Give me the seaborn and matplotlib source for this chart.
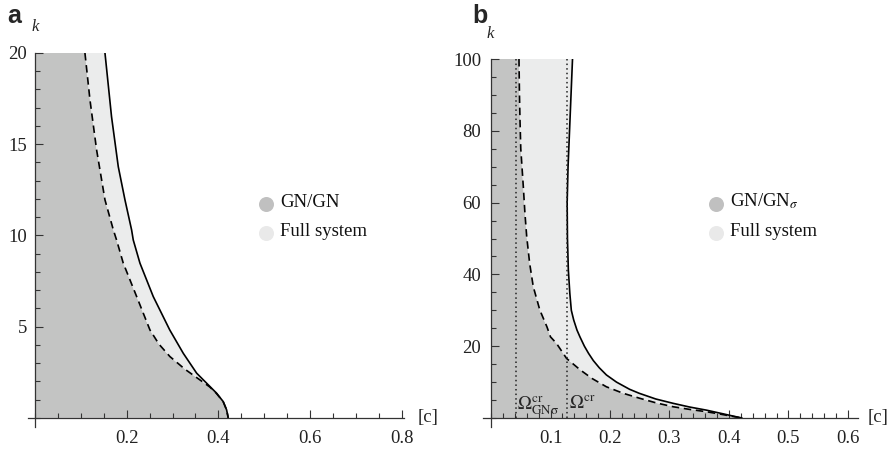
import numpy as np
import matplotlib
matplotlib.use("Agg")
import matplotlib.pyplot as plt
from matplotlib.ticker import MultipleLocator, FixedLocator
import seaborn as sns

# ---------------- data ----------------
# panel a : boundary curves c(k)
k_a_full = [20, 16.51, 13.77, 11.95, 10.3, 9.75, 8.48, 6.65, 4.82, 3.54, 2.45,
            1.90, 1.35, 0.89, 0.44, 0]
c_a_full = [0.1527, 0.167, 0.1817, 0.1963, 0.2108, 0.2144, 0.229, 0.258, 0.294,
            0.3235, 0.3527, 0.3745, 0.3963, 0.4107, 0.418, 0.4216]
k_a_gn = [20, 17.42, 14.68, 11.95, 10.3, 9.75, 8.48, 6.65, 4.82, 4.04, 3.36, 2.67,
          2.08, 1.7, 1.35, 0.89, 0.44, 0]
c_a_gn = [0.109, 0.120, 0.1345, 0.1527, 0.171, 0.178, 0.1926, 0.2218, 0.2508, 0.2705,
          0.2944, 0.327, 0.3599, 0.381, 0.3955, 0.4105, 0.418, 0.4216]
# panel b : boundary curves c(k)
k_b_full = [100, 90, 80, 70, 60, 50, 41.2, 34.7, 30, 27.3, 24.5, 22.6, 20, 18, 16, 14,
            12, 10, 8, 6.9, 5.3, 4.1, 3.06, 2.2, 1.1, 0.5, 0]
c_b_full = [0.137, 0.1345, 0.132, 0.1295, 0.128, 0.1285, 0.130, 0.1325, 0.135, 0.139,
            0.1445, 0.1495, 0.157, 0.164, 0.172, 0.182, 0.194, 0.211, 0.233, 0.249, 0.277,
            0.306, 0.334, 0.362, 0.392, 0.408, 0.422]
k_b_gn = [100, 90, 83, 75, 64.4, 57, 50.5, 43, 36.6, 30.1, 25.4, 22.6, 20.8, 16.6, 13.4,
          11, 8.7, 6.9, 5.5, 4.2, 3.15, 2.4, 1.76, 1.1, 0.5, 0]
c_b_gn = [0.047, 0.0478, 0.0487, 0.050, 0.0543, 0.057, 0.060, 0.065, 0.071, 0.082, 0.094,
          0.100, 0.110, 0.127, 0.150, 0.170, 0.194, 0.222, 0.250, 0.278, 0.306, 0.334,
          0.362, 0.385, 0.405, 0.422]
omega_cr_gn = 0.0415
omega_cr = 0.128

xticks_a = [0.2, 0.4, 0.6, 0.8]
yticks_a = [5, 10, 15, 20]
xticks_b = [0.1, 0.2, 0.3, 0.4, 0.5, 0.6]
yticks_b = [20, 40, 60, 80, 100]
legend_a = ["GN/GN", "Full system"]
legend_b = ["GN/GN$_{\\sigma}$", "Full system"]

# ---------------- style ----------------
sns.set_theme(style="white")
plt.rcParams["font.family"] = ["Liberation Serif", "DejaVu Serif"]
plt.rcParams["mathtext.fontset"] = "stix"

DARK = "#c3c4c3"
LIGHT = "#ebecec"
LEG_DARK = "#c0c0c0"
LEG_LIGHT = "#e9e9e9"
AX_COL = "#333333"
FS = 13.5

W, H = 893, 450
fig = plt.figure(figsize=(W / 100, H / 100), dpi=100)


def fx(px):
    return px / W


def fy(py):
    return 1 - py / H


def make_axes(l, r, t, b):
    return fig.add_axes([fx(l), fy(b), fx(r) - fx(l), fy(t) - fy(b)])


def style_axes(ax, xlim, ylim, xt, yt, xminor, yminor, ypad):
    ax.set_xlim(*xlim)
    ax.set_ylim(*ylim)
    ax.set_axisbelow(False)
    for s in ["top", "right"]:
        ax.spines[s].set_visible(False)
    for s in ["left", "bottom"]:
        ax.spines[s].set_position(("data", 0))
        ax.spines[s].set_color(AX_COL)
        ax.spines[s].set_linewidth(0.9)
        ax.spines[s].set_zorder(6)
    ax.xaxis.set_major_locator(FixedLocator(xt))
    ax.yaxis.set_major_locator(FixedLocator(yt))
    ax.xaxis.set_minor_locator(MultipleLocator(xminor))
    ax.yaxis.set_minor_locator(MultipleLocator(yminor))
    ax.set_xticklabels([f"{v:g}" for v in xt])
    ax.set_yticklabels([f"{v:g}" for v in yt])
    ax.tick_params(which="both", direction="in", color=AX_COL, width=0.8,
                   labelsize=FS, labelcolor="#222222", bottom=True, left=True,
                   top=False, right=False)
    ax.tick_params(which="major", length=6)
    ax.tick_params(which="minor", length=3.5)
    ax.tick_params(axis="x", which="both", pad=8.5)
    ax.tick_params(axis="y", which="both", pad=ypad)
    ax.set_facecolor("none")
    ax.grid(False)


def draw_regions(ax, k_gn, c_gn, k_full, c_full, ktop):
    # dark region: from c = 0 to the GN boundary
    ax.fill(list(c_gn) + [0, 0], list(k_gn) + [0, ktop], color=DARK, lw=0, zorder=1)
    # light region: between GN boundary and full-system boundary
    ax.fill(list(c_full) + list(c_gn[::-1]), list(k_full) + list(k_gn[::-1]),
            color=LIGHT, lw=0, zorder=1)
    sns.lineplot(x=c_full, y=k_full, sort=False, estimator=None, ax=ax,
                 color="black", lw=1.2, zorder=3)
    sns.lineplot(x=c_gn, y=k_gn, sort=False, estimator=None, ax=ax,
                 color="black", lw=1.2, linestyle=(0, (4.5, 2.8)), zorder=3)


# ---------------- panel a ----------------
ax_a = make_axes(28.1, 404, 53, 427)
draw_regions(ax_a, k_a_gn, c_a_gn, k_a_full, c_a_full, 20)
style_axes(ax_a, (-0.015, 0.805), (-0.5, 20), xticks_a, yticks_a, 0.05, 1, 5.8)

# ---------------- panel b ----------------
ax_b = make_axes(483.3, 858, 59, 427)
draw_regions(ax_b, k_b_gn, c_b_gn, k_b_full, c_b_full, 100)
for xv in (omega_cr_gn, omega_cr):
    ax_b.plot([xv, xv], [0, 100], color="#222222", lw=1.1,
              linestyle=(0, (1, 2)), zorder=4)
style_axes(ax_b, (-0.013, 0.617), (-2.5, 100), xticks_b, yticks_b, 0.02, 5, 7)

ax_b.text(omega_cr_gn + 0.002, 2.4, r"$\Omega^{\rm cr}_{\rm GN\sigma}$",
          fontsize=FS, ha="left", va="baseline", zorder=5)
ax_b.text(omega_cr + 0.003, 2.4, r"$\Omega^{\rm cr}$",
          fontsize=FS, ha="left", va="baseline", zorder=5)

# ---------------- figure annotations ----------------
fig.text(fx(7), fy(23), "a", fontsize=18, fontweight="bold",
         family=["Liberation Sans", "DejaVu Sans"], ha="left", va="baseline")
fig.text(fx(472), fy(23), "b", fontsize=18, fontweight="bold",
         family=["Liberation Sans", "DejaVu Sans"], ha="left", va="baseline")
fig.text(fx(32), fy(31), "k", fontsize=12, style="italic", ha="left", va="baseline")
fig.text(fx(487), fy(38), "k", fontsize=12, style="italic", ha="left", va="baseline")
fig.text(fx(418), fy(417.5), "[c]", fontsize=FS, ha="left", va="center")
fig.text(fx(868), fy(417.5), "[c]", fontsize=FS, ha="left", va="center")

# legends
for cx, labels in ((265.5, legend_a), (715.5, legend_b)):
    for (cy, ty), col, lab in zip(((203.5, 206.7), (233, 236.5)),
                                   (LEG_DARK, LEG_LIGHT), labels):
        fig.lines.append(plt.Line2D([fx(cx)], [fy(cy)], marker="o", markersize=10.8,
                                    color=col, markeredgewidth=0,
                                    transform=fig.transFigure, figure=fig))
        fig.text(fx(cx + 14.5), fy(ty), lab, fontsize=FS, ha="left", va="baseline",
                 color="#111111")

fig.savefig("out.png", dpi=100)
